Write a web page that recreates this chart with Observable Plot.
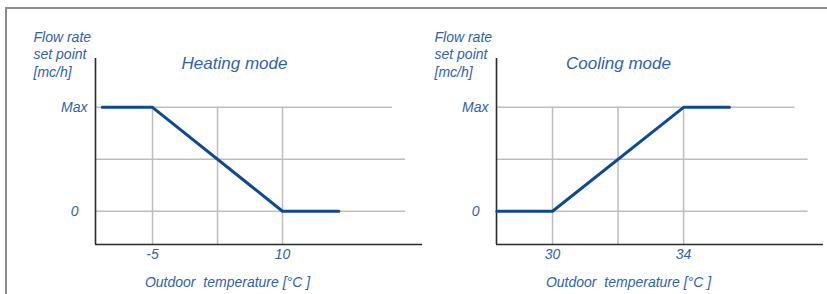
<!DOCTYPE html>
<html><head><meta charset="utf-8">
<script src="https://cdn.jsdelivr.net/npm/d3@7"></script>
<script src="https://cdn.jsdelivr.net/npm/@observablehq/plot@0.6"></script>
<style>
body{margin:0;background:#fff;}
#wrap{position:relative;width:827px;height:294px;overflow:hidden;background:#fff;}
#frame{position:absolute;left:5px;top:7px;width:900px;height:400px;border-top:2px solid #8c8c8c;border-left:2px solid #8c8c8c;}
#left,#right{position:absolute;top:0}
#left{left:0} #right{left:410px}
</style></head><body>
<div id="wrap"><div id="frame"></div><div id="left"></div><div id="right"></div></div>
<script>
// Data
const heatTemp = [-10.8, -5, 10, 16.5];
const heatFlow = [1, 1, 0, 0];
const coolTemp = [28.3, 30, 34, 35.4];
const coolFlow = [0, 0, 1, 1];
const heatTicks = [-5, 10];
const coolTicks = [30, 34];
const heatGridX = [-5, 2.5, 10];
const coolGridX = [30, 32, 34];
const levels = [0, 0.5, 1];
const heatGridEnd = [24.2, 24.2, 22.7];
const coolGridEnd = [37.8, 37.8, 37.4];
const maxLabel = "Max";
const zeroLabel = "0";
const yTitle = "Flow rate\nset point\n[mc/h]";
const xTitle = "Outdoor  temperature [°C ]";
const titles = ["Heating mode", "Cooling mode"];

const BLUE_TEXT = "#2f62b0";
const BLUE_LINE = "#0c4a98";
const GRID = "#bdbdbd";
const AXIS = "#2a2a2a";
const FONT = "'Liberation Sans', Arial, sans-serif";

function panel({temp, flow, ticks, gridX, gridEnd, xDomain, width, marginLeft, marginRight, title, titleDx}) {
  const yDomain = [-0.32, 1.47];
  const line = temp.map((t, i) => ({t, f: flow[i]}));
  const hgrid = levels.map((y, i) => ({y, x1: xDomain[0], x2: gridEnd[i]}));
  return Plot.plot({
    width, height: 294,
    marginLeft, marginRight, marginTop: 58, marginBottom: 50,
    x: {domain: xDomain, label: null},
    y: {domain: yDomain, label: null},
    style: {fontFamily: FONT, fontSize: "14px", fontStyle: "italic", color: BLUE_TEXT, background: "transparent", overflow: "visible"},
    marks: [
      Plot.ruleY(hgrid, {y: "y", x1: "x1", x2: "x2", stroke: GRID, strokeWidth: 1.5}),
      Plot.ruleX(gridX, {x: d => d, y1: yDomain[0], y2: 1, stroke: GRID, strokeWidth: 1.5}),
      Plot.ruleX([xDomain[0]], {y1: yDomain[0], y2: yDomain[1], stroke: AXIS, strokeWidth: 1.6}),
      Plot.ruleY([yDomain[0]], {x1: xDomain[0], x2: xDomain[1], stroke: AXIS, strokeWidth: 1.6}),
      Plot.line(line, {x: "t", y: "f", stroke: BLUE_LINE, strokeWidth: 3}),
      Plot.axisX({ticks, tickSize: 0, tickPadding: 5, tickFormat: d => String(d), anchor: "bottom", fill: BLUE_TEXT}),
      Plot.axisY({ticks: [1], tickSize: 0, tickPadding: 8, tickFormat: () => maxLabel, anchor: "left", fill: BLUE_TEXT}),
      Plot.axisY({ticks: [0], tickSize: 0, tickPadding: 17, tickFormat: () => zeroLabel, anchor: "left", fill: BLUE_TEXT}),
      Plot.text([title], {frameAnchor: "top", dx: titleDx, dy: 5, lineAnchor: "middle", fontSize: 17, fill: BLUE_TEXT}),
      Plot.text([xTitle], {frameAnchor: "bottom", dx: -31.5, dy: 38, lineAnchor: "middle", fontSize: 14, fill: BLUE_TEXT}),
      Plot.text([yTitle], {frameAnchor: "top-left", dx: -62, dy: -29, textAnchor: "start", lineAnchor: "top", lineHeight: 1.25, fontSize: 14, fill: BLUE_TEXT})
    ]
  });
}

document.getElementById("left").append(panel({
  temp: heatTemp, flow: heatFlow, ticks: heatTicks, gridX: heatGridX, gridEnd: heatGridEnd,
  xDomain: [-11.58, 26.15], width: 430, marginLeft: 95, marginRight: 8,
  title: titles[0], titleDx: -24.5
}));
document.getElementById("right").append(panel({
  temp: coolTemp, flow: coolFlow, ticks: coolTicks, gridX: coolGridX, gridEnd: coolGridEnd,
  xDomain: [28.29, 38.27], width: 417, marginLeft: 86, marginRight: 4,
  title: titles[1], titleDx: -41.5
}));
</script>
</body></html>
